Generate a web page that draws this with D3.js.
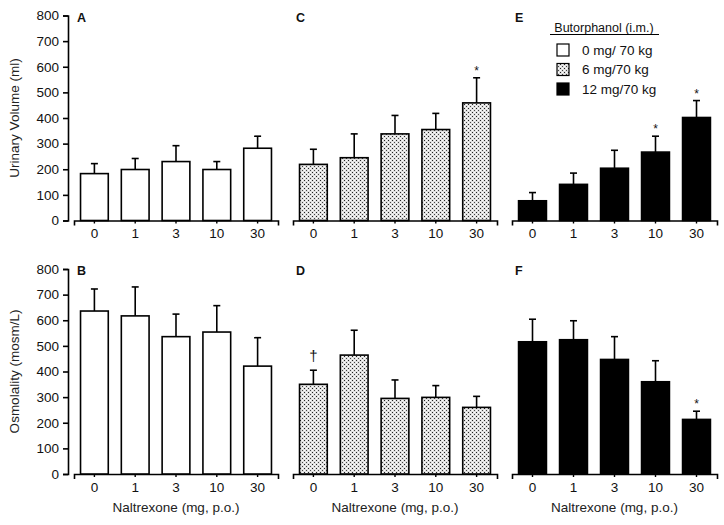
<!DOCTYPE html>
<html><head><meta charset="utf-8">
<script src="https://cdn.jsdelivr.net/npm/d3@7"></script>
<style>body{margin:0;background:#fff}svg{display:block;font-family:"Liberation Sans",Arial,Helvetica,sans-serif}</style>
</head><body>
<svg id="c" width="724" height="525"></svg>
<script>
const categories = ["0","1","3","10","30"];
const yTicks = [0,100,200,300,400,500,600,700,800];
const groups = ["0 mg/ 70 kg","6 mg/70 kg","12 mg/70 kg"];
// Urinary volume (ml): mean and upper error
const volMean = [[183,199,230,199,282],[219,245,338,355,459],[77,141,204,267,402]];
const volErr  = [[222,242,292,230,329],[278,338,410,418,557],[109,185,274,329,468]];
// Osmolality (mosm/L)
const osmMean = [[636,617,536,554,421],[350,464,295,299,260],[516,524,447,360,213]];
const osmErr  = [[722,730,624,657,532],[405,561,367,345,303],[604,598,536,442,245]];
// annotations: [group, category index, symbol]
const volMarks = [[1,4,"*"],[2,3,"*"],[2,4,"*"]];
const osmMarks = [[1,0,"\u2020"],[2,4,"*"]];
const panelLetters = [["A","C","E"],["B","D","F"]];
const yTitles = ["Urinary Volume (ml)","Osmolality (mosm/L)"];
const xTitle = "Naltrexone (mg, p.o.)";
const legendTitle = "Butorphanol (i.m.)";

const svg = d3.select("#c");
const defs = svg.append("defs");
const pat = defs.append("pattern").attr("id","dots").attr("patternUnits","userSpaceOnUse")
  .attr("width",4).attr("height",4);
pat.append("rect").attr("width",4).attr("height",4).attr("fill","#e0e0e0");
pat.append("rect").attr("x",0).attr("y",0).attr("width",1).attr("height",1).attr("fill","#222");
pat.append("rect").attr("x",2).attr("y",2).attr("width",1).attr("height",1).attr("fill","#444");
pat.append("rect").attr("x",2).attr("y",0).attr("width",1).attr("height",1).attr("fill","#fff");
pat.append("rect").attr("x",0).attr("y",2).attr("width",1).attr("height",1).attr("fill","#fff");
const fills = ["#fff","url(#dots)","#000"];

const rows = [
  {top:15.5, bottom:220.5, mean:volMean, err:volErr, marks:volMarks},
  {top:269, bottom:474, mean:osmMean, err:osmErr, marks:osmMarks}
];
const cols = [[74,278],[293,497],[512,717]];

rows.forEach((row, ri) => {
  const y = d3.scaleLinear().domain([0,800]).range([row.bottom,row.top]);
  const ya = svg.append("g").attr("transform",`translate(68,0)`)
    .call(d3.axisLeft(y).tickValues(yTicks).tickSize(5).tickPadding(4));
  ya.select(".domain").attr("stroke-width",1.6);
  ya.selectAll(".tick line").attr("stroke-width",1.6);
  ya.selectAll("text").attr("font-size",13.5).attr("fill","#111");
  svg.append("text").attr("transform",`translate(19,${(row.top+row.bottom)/2}) rotate(-90)`)
    .attr("text-anchor","middle").attr("font-size",13.5).attr("fill","#222").text(yTitles[ri]);

  cols.forEach((c, gi) => {
    const x = d3.scaleBand().domain(categories).range(c).paddingInner(0.32).paddingOuter(0.16);
    const g = svg.append("g");
    const xa = g.append("g").attr("transform",`translate(0,${row.bottom})`)
      .call(d3.axisBottom(x).tickSize(3).tickPadding(5).tickSizeOuter(5));
    xa.select(".domain").attr("stroke-width",1.6);
    xa.selectAll(".tick line").attr("stroke-width",1.4);
    xa.selectAll("text").attr("font-size",13.5).attr("fill","#111");
    g.selectAll(".eb").data(categories).join("line")
      .attr("x1",d=>x(d)+x.bandwidth()/2).attr("x2",d=>x(d)+x.bandwidth()/2)
      .attr("y1",(d,i)=>y(row.mean[gi][i])).attr("y2",(d,i)=>y(row.err[gi][i]))
      .attr("stroke","#000").attr("stroke-width",1.6);
    g.selectAll(".cap").data(categories).join("line")
      .attr("x1",d=>x(d)+x.bandwidth()/2-3.5).attr("x2",d=>x(d)+x.bandwidth()/2+3.5)
      .attr("y1",(d,i)=>y(row.err[gi][i])).attr("y2",(d,i)=>y(row.err[gi][i]))
      .attr("stroke","#000").attr("stroke-width",1.6);
    g.selectAll(".bar").data(categories).join("rect")
      .attr("x",d=>x(d)).attr("width",x.bandwidth())
      .attr("y",(d,i)=>y(row.mean[gi][i])).attr("height",(d,i)=>row.bottom-y(row.mean[gi][i]))
      .attr("fill",fills[gi]).attr("stroke","#000").attr("stroke-width",1.6);
    row.marks.filter(m=>m[0]===gi).forEach(m => {
      const cat = categories[m[1]];
      const isDag = m[2] !== "*";
      g.append("text").attr("x",x(cat)+x.bandwidth()/2)
        .attr("y",y(row.err[gi][m[1]]) - (isDag?9:3))
        .attr("text-anchor","middle").attr("font-size",isDag?15:12).attr("fill","#111").text(m[2]);
    });
    svg.append("text").attr("x",c[0]+3).attr("y",row.top+6).attr("font-size",12.5)
      .attr("font-weight","bold").attr("fill","#111").text(panelLetters[ri][gi]);
    if (ri===1) {
      svg.append("text").attr("x",(c[0]+c[1])/2).attr("y",512).attr("text-anchor","middle")
        .attr("font-size",13.5).attr("fill","#222").text(xTitle);
    }
  });
});

// legend
const lg = svg.append("g");
lg.append("text").attr("x",604).attr("y",32).attr("text-anchor","middle").attr("font-size",12.5)
  .attr("fill","#111").text(legendTitle);
lg.append("line").attr("x1",550).attr("x2",659).attr("y1",34.5).attr("y2",34.5).attr("stroke","#000").attr("stroke-width",1.2);
groups.forEach((gname,i) => {
  const yy = 44 + i*19.5;
  lg.append("rect").attr("x",557).attr("y",yy).attr("width",12).attr("height",12)
    .attr("fill",fills[i]).attr("stroke","#000").attr("stroke-width",1.2);
  lg.append("text").attr("x",582).attr("y",yy+10.5).attr("font-size",13.5).attr("fill","#111").text(gname);
});
</script>
</body></html>
